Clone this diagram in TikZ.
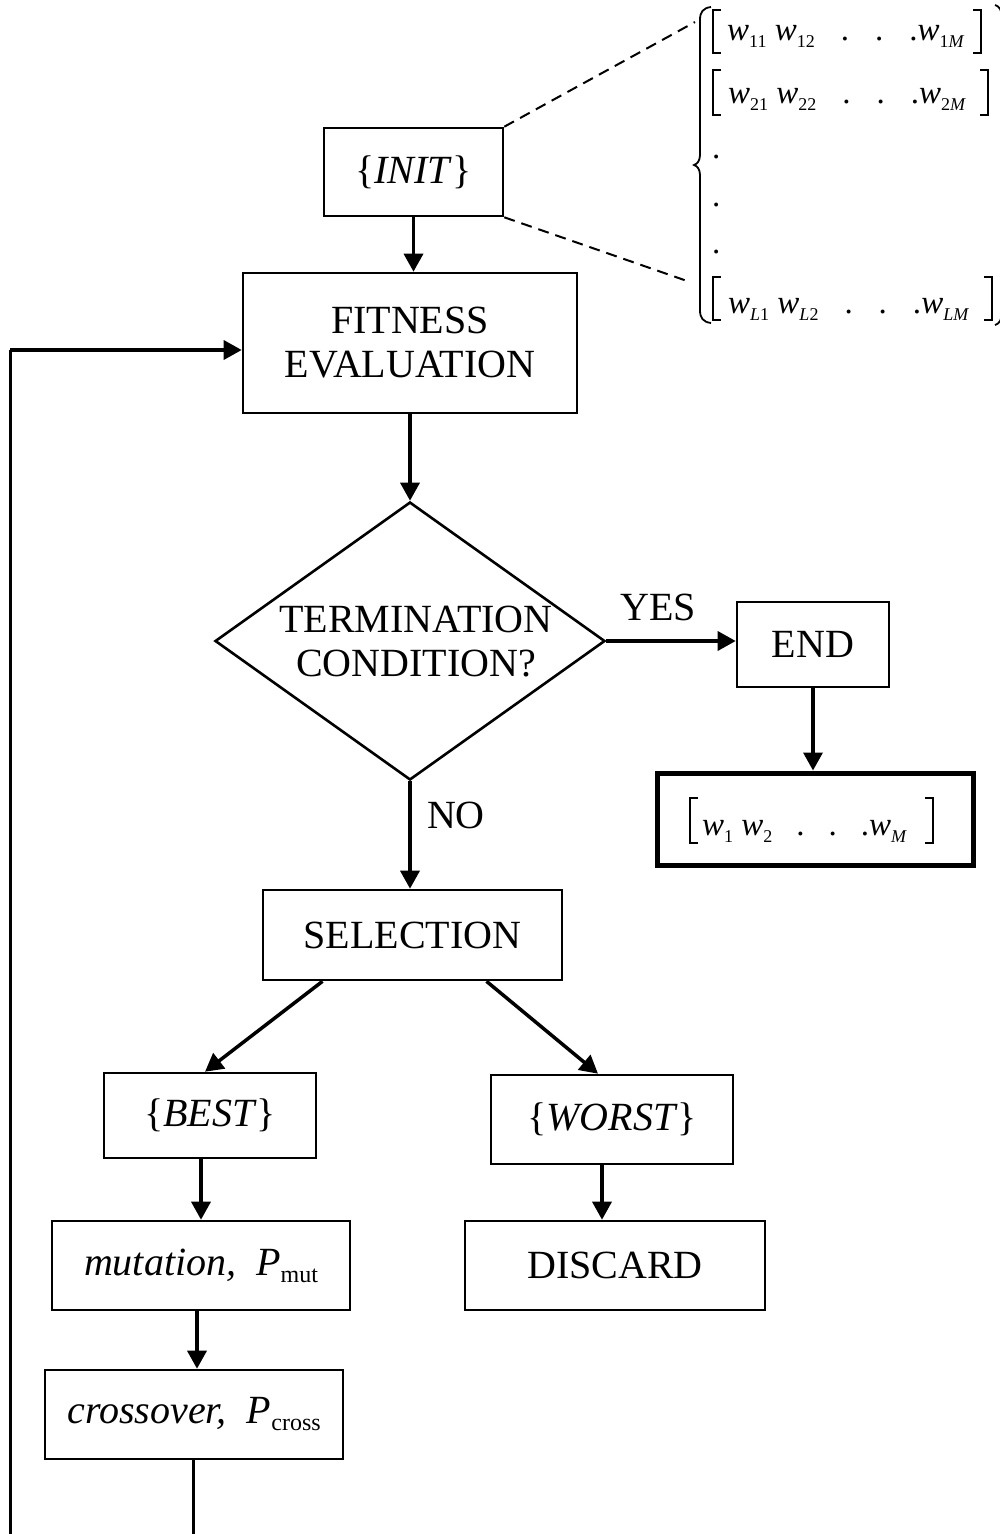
\documentclass[tikz,border=0pt]{standalone}
\usepackage{fontspec}
\setmainfont{Liberation Serif}
\usetikzlibrary{shapes.geometric,arrows.meta}
\newcommand\mysub[1]{\raisebox{-7pt}{\fontsize{18}{18}\selectfont #1}}
\newcommand\wv[1]{\textit{w}\mysub{#1}}
\newcommand\mrow[3]{\wv{#1} \wv{#2}\hspace{26pt}.\hspace{26pt}.\hspace{26pt}.\wv{#3}}
\newcommand\psub[1]{\raisebox{-7pt}{\fontsize{24}{24}\selectfont #1}}
\begin{document}
\begin{tikzpicture}[x=1pt,y=-1pt,
 every node/.style={font=\fontsize{40}{44}\selectfont},
 box/.style={draw,line width=2.6pt,rectangle,inner sep=0pt,align=center},
 arr/.style={line width=3.5pt,-{Triangle[length=18pt,width=19pt]}},
 conn/.style={line width=3pt},
 dsh/.style={line width=2pt,dash pattern=on 11pt off 7pt},
 thinl/.style={line width=1.8pt},
 mtx/.style={font=\fontsize{33}{36}\selectfont,inner sep=0pt,anchor=base west}]
\useasboundingbox (0,0) rectangle (1000,1534);
\clip (0,0) rectangle (1000,1534);

% boxes
\node[box,minimum width=179pt,minimum height=88pt] (init) at (413.5,172) {\{\textit{INIT}\}};
\node[box,minimum width=334pt,minimum height=140pt] (fit) at (410,343) {FITNESS\\EVALUATION};
\node[draw,diamond,line width=2.6pt,inner sep=0pt,minimum width=390pt,minimum height=278pt] (cond) at (410,641) {};
\node[align=center] (condtxt) at (416,642) {TERMINATION\\CONDITION?};
\node[box,minimum width=152pt,minimum height=85pt] (end) at (813,644.5) {END};
\node[box,line width=5pt,minimum width=316pt,minimum height=92pt] (res) at (815,819) {};
\node[box,minimum width=299pt,minimum height=90pt] (sel) at (412.5,935) {SELECTION};
\node[box,minimum width=212pt,minimum height=85pt] (best) at (210,1115.5) {\{\textit{BEST}\}};
\node[box,minimum width=242pt,minimum height=89pt] (worst) at (612,1119.5) {\{\textit{WORST}\}};
\node[box,minimum width=298pt,minimum height=89pt] (mut) at (201,1265.5) {\textit{mutation,\ \ P}\psub{mut}};
\node[box,minimum width=300pt,minimum height=89pt] (dis) at (615,1265.5) {DISCARD};
\node[box,minimum width=298pt,minimum height=89pt] (cross) at (194,1414.5) {\textit{crossover,\ \ P}\psub{cross}};

% result row
\node[mtx] (resrow) at (702,835) {\wv{1} \wv{2}\hspace{24pt}.\hspace{24pt}.\hspace{24pt}.\wv{\textit{M}}};
\draw[thinl] (698,798) -- (690,798) -- (690,843) -- (698,843);
\draw[thinl] (925,798) -- (933,798) -- (933,843) -- (925,843);

% matrix rows
\node[mtx] (r1) at (727,40) {\mrow{11}{12}{1\textit{M}}};
\node[mtx] (r2) at (728,103) {\mrow{21}{22}{2\textit{M}}};
\node[mtx] (rL) at (728,313) {\mrow{\textit{L}1}{\textit{L}2}{\textit{LM}}};
\node[mtx] (d1) at (712,158) {.};
\node[mtx] (d2) at (712,206) {.};
\node[mtx] (d3) at (712,253) {.};
\draw[thinl] (721,10) -- (713,10) -- (713,53) -- (721,53);
\draw[thinl] (973,10) -- (981,10) -- (981,53) -- (973,53);
\draw[thinl] (721,70) -- (713,70) -- (713,115) -- (721,115);
\draw[thinl] (980,70) -- (988,70) -- (988,115) -- (980,115);
\draw[thinl] (721,277) -- (713,277) -- (713,320) -- (721,320);
\draw[thinl] (984,277) -- (992,277) -- (992,320) -- (984,320);
% braces
\draw[thinl] (711,7) .. controls (703,8) and (700,12) .. (700,20) -- (700,155)
  .. controls (700,161) and (697,164) .. (694,165)
  .. controls (697,166) and (700,169) .. (700,175) -- (700,310)
  .. controls (700,318) and (703,322) .. (711,323);
\draw[thinl] (995,5) .. controls (999,6) and (1002,10) .. (1002,18) -- (1002,155)
  .. controls (1002,161) and (1005,164) .. (1008,165)
  .. controls (1005,166) and (1002,169) .. (1002,175) -- (1002,312)
  .. controls (1002,320) and (999,324) .. (995,325);

% dashed lines
\coordinate (mt) at (695,22);
\coordinate (mb) at (690,282);
\draw[dsh] (init.north east) -- (mt);
\draw[dsh] (init.south east) -- (mb);

% arrows
\draw[arr] (init.south) -- (init.south |- fit.north);
\draw[arr] (fit.south) -- (fit.south |- cond.north);
\draw[arr] (cond.east) -- (cond.east -| end.west);
\node (yes) at (658,607) {YES};
\draw[arr] (end.south) -- (end.south |- res.north);
\draw[arr] (cond.south) -- (cond.south |- sel.north);
\node (no) at (456,815) {NO};
\draw[arr] ([xshift=-90pt]sel.south) -- ([xshift=-5pt]best.north);
\draw[arr] ([xshift=74pt]sel.south) -- ([xshift=-14pt]worst.north);
\draw[arr] (mut.north |- best.south) -- (mut.north);
\draw[arr] ([xshift=-10pt]worst.south) -- ([xshift=-10pt]worst.south |- dis.north);
\draw[arr] ([xshift=-4pt]mut.south) -- ([xshift=-4pt]mut.south |- cross.north);

% feedback loop
\coordinate (cb) at (193,1560);
\coordinate (lb) at (10,1560);
\coordinate (lt) at (10,350);
\draw[conn] ([xshift=-1pt]cross.south) -- (cb) -- (lb) -- (lt);
\draw[arr] (lt) -- ([yshift=-7pt]fit.west);
\end{tikzpicture}
\end{document}
